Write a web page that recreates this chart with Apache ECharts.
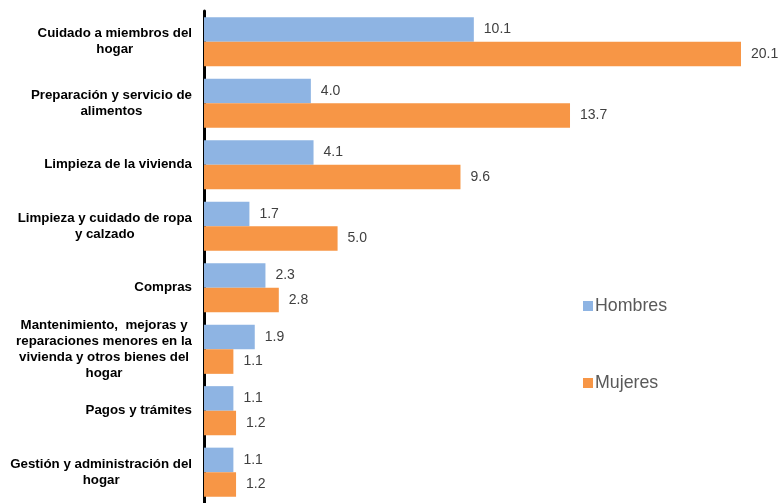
<!DOCTYPE html>
<html>
<head>
<meta charset="utf-8">
<script src="https://cdn.jsdelivr.net/npm/echarts@6/dist/echarts.min.js"></script>
<style>
  html, body { margin: 0; padding: 0; background: #fff; }
  #chart { width: 779px; height: 503px; }
</style>
</head>
<body>
<div id="chart"></div>
<script>
  var categories = [
    'Cuidado a miembros del\nhogar',
    'Preparación y servicio de\nalimentos',
    'Limpieza de la vivienda',
    'Limpieza y cuidado de ropa\ny calzado',
    'Compras',
    'Mantenimiento,  mejoras y\nreparaciones menores en la\nvivienda y otros bienes del\nhogar',
    'Pagos y trámites',
    'Gestión y administración del\nhogar'
  ]
  var hombres = [10.1, 4.0, 4.1, 1.7, 2.3, 1.9, 1.1, 1.1]
  var mujeres = [20.1, 13.7, 9.6, 5.0, 2.8, 1.1, 1.2, 1.2]

  var chart = echarts.init(document.getElementById('chart'))
  var valueLabel = {
    show: true,
    position: 'right',
    distance: 10,
    color: '#404040',
    fontSize: 14,
    fontFamily: 'Liberation Sans, Arial, sans-serif',
    formatter: function (p) { return p.value.toFixed(1) }
  }
  chart.setOption({
    animation: false,
    textStyle: { fontFamily: 'Liberation Sans, Arial, sans-serif' },
    grid: { left: 204, right: 38, top: 11, bottom: 0, containLabel: false },
    legend: {
      orient: 'vertical',
      left: 578,
      top: 292,
      itemGap: 59,
      itemWidth: 10,
      itemHeight: 10,
      icon: 'rect',
      textStyle: { fontSize: 17.8, color: '#595959', padding: [0, 0, 0, -3] },
      data: ['Hombres', 'Mujeres']
    },
    xAxis: {
      type: 'value',
      min: 0,
      max: 20.1,
      show: false,
      splitLine: { show: false }
    },
    yAxis: {
      type: 'category',
      data: categories,
      inverse: true,
      axisTick: { show: false },
      axisLine: { show: true, lineStyle: { color: '#000', width: 3 } },
      axisLabel: {
        margin: 12,
        fontSize: 13.3,
        fontWeight: 'bold',
        color: '#000',
        lineHeight: 16,
        formatter: function (v) {
          return v.split('\n').map(function (s) { return '{c|' + s + '}' }).join('\n')
        },
        rich: {
          c: { align: 'center', fontSize: 13.3, fontWeight: 'bold', color: '#000', lineHeight: 16 }
        }
      }
    },
    series: [
      {
        name: 'Hombres',
        type: 'bar',
        data: hombres,
        barGap: '0%',
        barCategoryGap: '20%',
        itemStyle: { color: '#8EB4E3' },
        label: valueLabel
      },
      {
        name: 'Mujeres',
        type: 'bar',
        data: mujeres,
        barGap: '0%',
        barCategoryGap: '20%',
        itemStyle: { color: '#F79646' },
        label: valueLabel
      }
    ]
  })
</script>
</body>
</html>
